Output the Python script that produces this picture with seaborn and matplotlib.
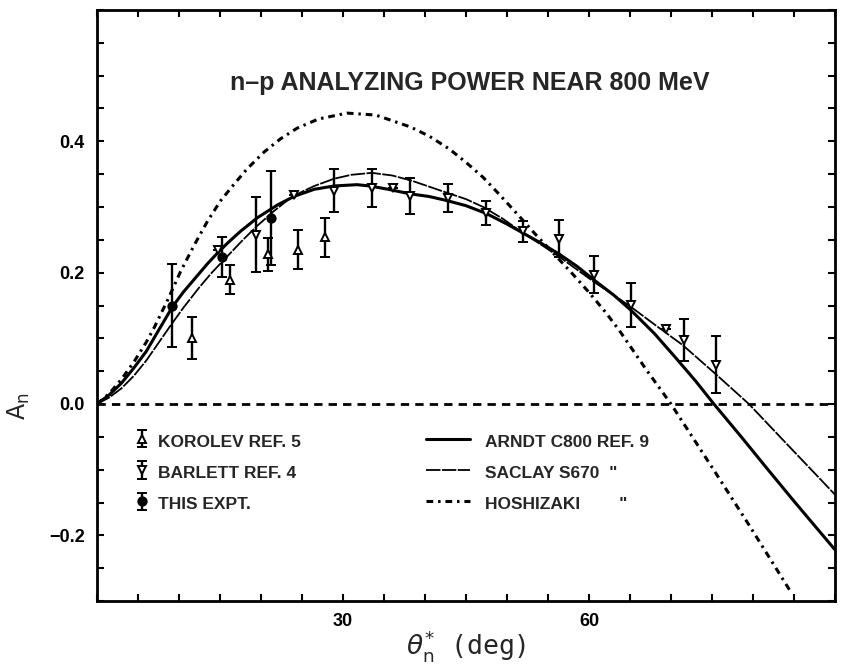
import numpy as np
import pandas as pd
import matplotlib
matplotlib.use("Agg")
import matplotlib.pyplot as plt
import seaborn as sns
from matplotlib.lines import Line2D

# ---------------- data ----------------
# Korolev (open up-triangles)
kor_x = [11.6, 16.2, 20.8, 24.5, 27.8]
kor_y = [0.100, 0.189, 0.228, 0.235, 0.254]
kor_e = [0.032, 0.022, 0.025, 0.030, 0.030]

# Barlett (open down-triangles)
bar_x = [14.8, 19.4, 24.0, 28.9, 33.5, 36.1, 38.2, 42.8, 47.4, 52.0, 56.4, 60.6, 65.1, 69.4, 71.6, 75.5]
bar_y = [0.235, 0.258, 0.318, 0.325, 0.329, 0.329, 0.317, 0.314, 0.291, 0.263, 0.252, 0.197, 0.151, 0.114, 0.097, 0.060]
bar_e = [0.0, 0.057, 0.0, 0.033, 0.029, 0.0, 0.027, 0.021, 0.018, 0.016, 0.028, 0.028, 0.034, 0.0, 0.032, 0.043]

# This experiment (filled circles)
exp_x = [9.2, 15.3, 21.2]
exp_y = [0.150, 0.224, 0.283]
exp_e = [0.063, 0.030, 0.072]

# Phase-shift predictions
arndt_x = [0, 1.5, 3.0, 4.5, 6.0, 7.5, 9.2, 10.5, 12.0, 13.5, 14.7, 16.0, 17.5, 19.6, 22.0, 24.0, 26.5,
           28.9, 31.7, 33.3, 35.5, 38.2, 40.5, 42.6, 45.0, 47.5, 50.0, 52.0, 54.0, 56.4, 58.5, 60.6,
           63.0, 65.1, 68.0, 70.6, 73.0, 75.1, 78.7, 81.5, 85.0, 90.0]
arndt_y = [0, 0.014, 0.032, 0.055, 0.080, 0.112, 0.148, 0.170, 0.192, 0.214, 0.230, 0.246, 0.263, 0.284,
           0.303, 0.316, 0.327, 0.332, 0.334, 0.332, 0.327, 0.320, 0.316, 0.310, 0.302, 0.290, 0.274,
           0.260, 0.246, 0.228, 0.210, 0.189, 0.166, 0.143, 0.107, 0.070, 0.035, 0.002, -0.052, -0.095,
           -0.148, -0.222]

saclay_x = [0, 1.5, 3.0, 4.5, 6.0, 7.5, 9.0, 10.5, 12.5, 14.0, 15.9, 17.8, 19.6, 21.5, 23.2, 24.8, 26.5,
            28.9, 31.0, 33.5, 36.0, 38.4, 40.5, 42.6, 45.0, 47.1, 49.5, 52.0, 54.0, 56.4, 58.5, 60.6,
            63.0, 65.1, 68.0, 71.4, 75.5, 79.5, 83.6, 90.0]
saclay_y = [0, 0.010, 0.024, 0.043, 0.066, 0.093, 0.120, 0.146, 0.178, 0.200, 0.225, 0.250, 0.272, 0.293,
            0.310, 0.322, 0.332, 0.343, 0.349, 0.352, 0.348, 0.340, 0.331, 0.322, 0.312, 0.300, 0.282,
            0.260, 0.244, 0.224, 0.205, 0.186, 0.166, 0.148, 0.121, 0.090, 0.045, 0.0, -0.054, -0.138]

hosh_x = [0, 1.5, 3.0, 4.5, 6.0, 7.0, 8.6, 10.2, 11.9, 13.5, 15.1, 16.8, 18.3, 20.4, 22.4, 24.4, 27.0,
          30.5, 34.0, 38.2, 40.5, 43.0, 45.0, 47.1, 49.0, 51.2, 53.5, 56.0, 58.0, 60.0, 62.0, 63.7, 67.0,
          70.0, 75.5, 79.5, 84.6]
hosh_y = [0, 0.016, 0.038, 0.064, 0.094, 0.117, 0.158, 0.202, 0.243, 0.279, 0.310, 0.336, 0.358, 0.384,
          0.404, 0.420, 0.434, 0.443, 0.440, 0.422, 0.408, 0.388, 0.368, 0.345, 0.320, 0.290, 0.258,
          0.225, 0.198, 0.170, 0.140, 0.112, 0.052, 0.0, -0.106, -0.184, -0.286]

title = "n\u2013p ANALYZING POWER NEAR 800 MeV"
legend_data = ["KOROLEV REF. 5", "BARLETT REF. 4", "THIS EXPT."]
legend_curves = ["ARNDT C800 REF. 9", "SACLAY S670  \"", "HOSHIZAKI        \""]

# ---------------- plot ----------------
sns.set_theme(style="ticks")
plt.rcParams['font.family'] = ['Liberation Sans', 'DejaVu Sans']

fig = plt.figure(figsize=(8.41, 6.67), dpi=100)
ax = fig.add_axes([97/841, 1-601/667, (835-97)/841, (601-10)/667])

curves = pd.concat([
    pd.DataFrame({"x": arndt_x, "y": arndt_y, "model": "arndt"}),
    pd.DataFrame({"x": saclay_x, "y": saclay_y, "model": "saclay"}),
    pd.DataFrame({"x": hosh_x, "y": hosh_y, "model": "hosh"}),
])
styles = {"arndt": dict(lw=2.2, ls='-'),
          "saclay": dict(lw=1.3, ls=(0, (8, 0.8))),
          "hosh": dict(lw=2.2, ls=(0, (2.2, 1.6, 0.8, 1.6)))}
for m, sub in curves.groupby("model", sort=False):
    sns.lineplot(data=sub, x="x", y="y", ax=ax, color="black", sort=False,
                 estimator=None, **styles[m])

ax.axhline(0, color="black", lw=2, ls=(0, (3, 2.2)))

eb_kw = dict(color="black", capsize=3.8, elinewidth=1.7, capthick=1.7, ls="none",
             markersize=6, markeredgewidth=1.4)
h1 = ax.errorbar(kor_x, kor_y, yerr=kor_e, fmt="^", mfc="white", **eb_kw)
h2 = ax.errorbar(bar_x, bar_y, yerr=bar_e, fmt="v", mfc="white", **eb_kw)
h3 = ax.errorbar(exp_x, exp_y, yerr=exp_e, fmt="o", mfc="black", **eb_kw)

ax.set_xlim(0, 90)
ax.set_ylim(-0.3, 0.6)
xt = np.arange(0, 91, 5)
ax.set_xticks(xt)
ax.set_xticklabels(["30" if v == 30 else ("60" if v == 60 else "") for v in xt])
yt = np.round(np.arange(-0.3, 0.601, 0.05), 2)
lab = {-0.2: "\u22120.2", 0.0: "0.0", 0.2: "0.2", 0.4: "0.4"}
ax.set_yticks(yt)
ax.set_yticklabels([lab.get(float(v), "") for v in yt])
ax.tick_params(direction="in", length=5, width=1.5, top=True, right=True,
               labelsize=13, pad=9, colors="black")
for t in ax.get_xticklabels() + ax.get_yticklabels():
    t.set_fontweight("bold")
for s in ax.spines.values():
    s.set_linewidth(2)
    s.set_color("black")

ax.set_xlabel(r"$\theta_{\rm n}^{*}$ (deg)", fontsize=19, family="DejaVu Sans Mono")
ax.xaxis.set_label_coords(0.5, -(628 - 601) / 591)
ax.set_ylabel(r"$\mathsf{A}_{\rm n}$", fontsize=17, labelpad=0)
ax.yaxis.set_label_coords(-0.088, (601 - 406) / 591)

ax.text(0.505, 0.876, title, transform=ax.transAxes, ha="center", va="center",
        fontsize=18, fontweight="bold")

leg1 = ax.legend([h1, h2, h3], legend_data, loc="upper left",
                 bbox_to_anchor=(0.042, 0.30), frameon=False, handlelength=0.8,
                 handleheight=1.45, handletextpad=0.5, labelspacing=0.62,
                 borderaxespad=0, prop=dict(size=12.5, weight="bold"))
ax.add_artist(leg1)
lh = [Line2D([], [], color="black", **styles[k]) for k in ["arndt", "saclay", "hosh"]]
ax.legend(lh, legend_curves, loc="upper left", bbox_to_anchor=(0.437, 0.30), frameon=False,
          handlelength=2.5, handleheight=1.45, handletextpad=0.85, labelspacing=0.62,
          borderaxespad=0, prop=dict(size=12.5, weight="bold"))

fig.savefig("out.png", dpi=100)
